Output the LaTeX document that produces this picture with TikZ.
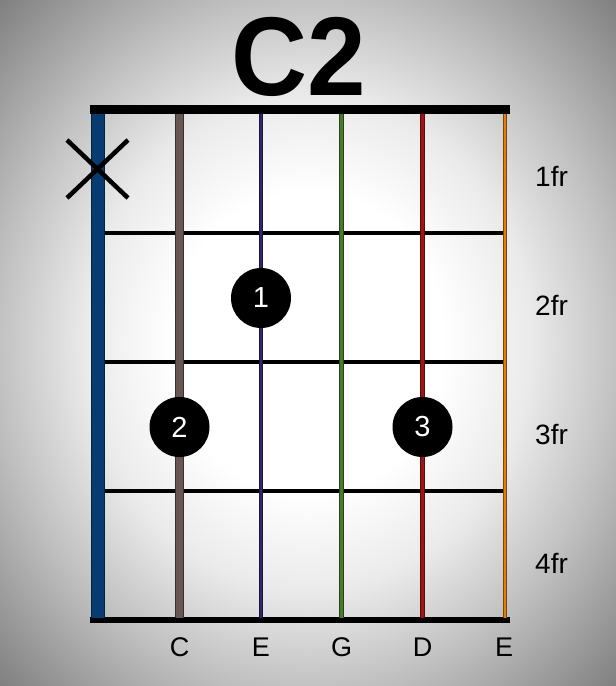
\documentclass[tikz,border=0pt]{standalone}
\usepackage{fontspec}
\setmainfont{Liberation Sans}
\pgfdeclareradialshading{vign}{\pgfpoint{0bp}{0bp}}{color(0bp)=(white); color(11bp)=(white); color(18bp)=(black!8); color(25bp)=(black!24); color(35.4bp)=(black!50); color(50bp)=(black!50)}
\definecolor{sE}{HTML}{073C70}
\definecolor{sA}{HTML}{675654}
\definecolor{sD}{HTML}{33266E}
\definecolor{sG}{HTML}{4B7A2E}
\definecolor{sB}{HTML}{9E1418}
\definecolor{sHE}{HTML}{DE800E}
\tikzset{
  fretline/.style={line width=4.5pt, black},
  finger/.style={circle, fill=black, minimum size=60pt, inner sep=0pt, text=white, font=\fontsize{29}{29}\selectfont},
  frlabel/.style={anchor=base west, inner sep=0pt, font=\fontsize{28}{28}\selectfont},
  strlabel/.style={anchor=base, inner sep=0pt, font=\fontsize{27}{27}\selectfont},
}
\begin{document}
\begin{tikzpicture}[x=1pt,y=-1pt]
\useasboundingbox (0,0) rectangle (616,686);
\shade[shading=vign] (0,0) rectangle (616,686);
% title
\node[anchor=base, inner sep=0pt, font=\fontsize{112}{112}\selectfont\bfseries] (title) at (298.5,95) {\scalebox{0.94}[1]{C2}};
% nut and bottom
\coordinate (nutL) at (90,109.5); \coordinate (nutR) at (510,109.5);
\coordinate (botL) at (90,620); \coordinate (botR) at (510,620);
\draw[line width=9pt] (nutL) -- (nutR);
\draw[line width=5.5pt] (botL) -- (botR);
% frets
\foreach \y [count=\i] in {233,362,491}{
  \coordinate (f\i L) at (105,\y); \coordinate (f\i R) at (503,\y);
  \draw[fretline] (f\i L) -- (f\i R);
}
% strings
\foreach \x/\w/\c/\n in {98/14/sE/1,179.5/9/sA/2,261/4/sD/3,341.5/4.2/sG/4,422.5/4.5/sB/5,505/4.5/sHE/6}{
  \coordinate (s\n T) at (\x,114); \coordinate (s\n B) at (\x,618);
  \draw[line width=\w pt, \c!55!black] (s\n T) -- (s\n B);
  \draw[line width=\w pt-1.8pt, \c] (s\n T) -- (s\n B);
}
% X mark
\coordinate (xa) at (67,140); \coordinate (xb) at (128,198);
\coordinate (xc) at (67,198); \coordinate (xd) at (128,140);
\draw[line width=4.5pt] (xa) -- (xb);
\draw[line width=4.5pt] (xc) -- (xd);
% fingers
\node[finger] (d1) at (261,298) {1};
\node[finger] (d2) at (179.5,427) {2};
\node[finger] (d3) at (422.5,427) {3};
% fret labels
\node[frlabel] (l1) at (535,186) {1fr};
\node[frlabel] (l2) at (535,315) {2fr};
\node[frlabel] (l3) at (535,444) {3fr};
\node[frlabel] (l4) at (535,573) {4fr};
% string labels
\node[strlabel] (n2) at (179.5,656) {C};
\node[strlabel] (n3) at (261,656) {E};
\node[strlabel] (n4) at (341.5,656) {G};
\node[strlabel] (n5) at (422.5,656) {D};
\node[strlabel] (n6) at (504,656) {E};
\end{tikzpicture}
\end{document}
